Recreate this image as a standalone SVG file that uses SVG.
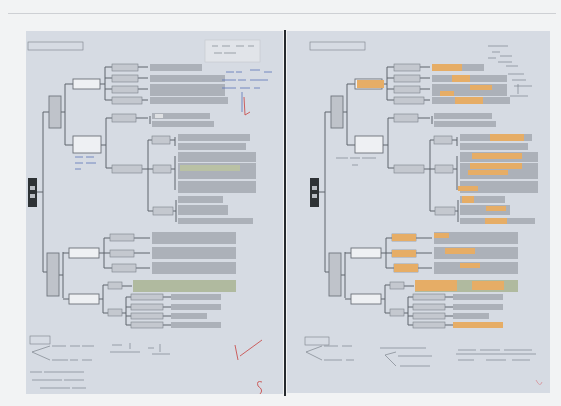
<svg xmlns="http://www.w3.org/2000/svg" xmlns:xlink="http://www.w3.org/1999/xlink" width="561" height="406" viewBox="0 0 561 406">
<style>
.ln{fill:none;stroke:#5f656d;stroke-width:1}
.nd{fill:#eef0f3;stroke:#6a7078;stroke-width:0.9}
.lb{fill:#c4c8cf;stroke:#7b8189;stroke-width:0.6}
.bar{fill:#acb1b9}
.grn{fill:#b0ba9f}
.or{fill:#e6ad66}
.sub{fill:#bfc3ca;stroke:#6f757d;stroke-width:0.9}
.hw{fill:none;stroke:#7d848d;stroke-width:0.7}
.bl{fill:none;stroke:#5a73b8;stroke-width:0.8}
.red{fill:none;stroke:#c9504f;stroke-width:0.9}
</style>
<defs>
<filter id="soft" x="0" y="0" width="1" height="1"><feGaussianBlur stdDeviation="0.45"/></filter>
<g id="map">
  <g id="connectors">
    <path class="ln" d="M37,192H43M43,112V272M43,112H49M43,272H47"/>
    <path class="ln" d="M61,112H65M65,84V145M65,84H73M65,145H73"/>
    <path class="ln" d="M100,84H105M105,67V100M105,67H112M105,78H112M105,89H112M105,100H112"/>
    <path class="ln" d="M138,67H148M138,78H148M138,89H148M142,100H148"/>
    <path class="ln" d="M101,145H106M106,118V168M106,118H112M106,168H112"/>
    <path class="ln" d="M136,118H148M150,116V124"/>
    <path class="ln" d="M142,169H148M148,140V211M148,140H152M148,169H153M148,211H153"/>
    <path class="ln" d="M170,140H175M175,137V146M171,169H175M175,156V190M173,211H176M176,200V222"/>
    <path class="ln" d="M59,275H63M63,252V298M63,253H69M63,299H69"/>
    <path class="ln" d="M99,253H104M104,238V268M104,238H110M104,253H110M104,268H112"/>
    <path class="ln" d="M134,238H150M134,253H150M136,268H150"/>
    <path class="ln" d="M99,299H103M103,285V313M103,285H108M103,313H108M122,286H132"/>
    <path class="ln" d="M122,313H126M126,297V325M126,297H131M126,307H131M126,316H131M126,325H131"/>
    <path class="ln" d="M171,297H163M171,307H163M171,316H163M171,325H163"/>
  </g>
  <g id="root"><rect x="28" y="178" width="9" height="29" fill="#2f3236"/><rect x="30" y="186" width="5" height="4" fill="#b9bdc3"/><rect x="30" y="194" width="5" height="4" fill="#b9bdc3"/></g>
  <g id="subTop"><rect class="sub" x="49" y="96" width="12" height="32"/></g>
  <g id="nodeA"><rect class="nd" x="73" y="79" width="27" height="10"/></g>
  <g id="nodeB"><rect class="nd" x="73" y="136" width="28" height="17"/></g>
  <g id="leavesA">
    <rect class="lb" x="112" y="64" width="26" height="7"/><rect class="lb" x="112" y="75" width="26" height="7"/>
    <rect class="lb" x="112" y="86" width="26" height="7"/><rect class="lb" x="112" y="97" width="30" height="7"/>
    <rect class="bar" x="150" y="64" width="52" height="7"/><rect class="bar" x="150" y="75" width="75" height="7"/>
    <rect class="bar" x="150" y="84" width="75" height="12"/><rect class="bar" x="150" y="97" width="78" height="7"/>
  </g>
  <g id="leavesB">
    <rect class="lb" x="112" y="114" width="24" height="8"/><rect class="lb" x="112" y="165" width="30" height="8"/>
    <rect class="bar" x="152" y="113" width="58" height="6"/><rect class="bar" x="152" y="121" width="62" height="6"/>
    <rect class="lb" x="152" y="136" width="18" height="8"/><rect class="lb" x="153" y="165" width="18" height="8"/><rect class="lb" x="153" y="207" width="20" height="8"/>
    <rect class="bar" x="178" y="134" width="72" height="7"/><rect class="bar" x="178" y="143" width="68" height="7"/>
    <rect class="bar" x="178" y="152" width="78" height="10"/><rect class="bar" x="178" y="163" width="78" height="16"/><rect class="bar" x="178" y="181" width="78" height="12"/>
    <rect class="bar" x="178" y="196" width="45" height="7"/><rect class="bar" x="178" y="205" width="50" height="10"/><rect class="bar" x="178" y="218" width="75" height="6"/>
  </g>
  <g id="subBot"><rect class="sub" x="47" y="253" width="12" height="43"/></g>
  <g id="nodeE"><rect class="nd" x="69" y="248" width="30" height="10"/></g>
  <g id="nodeF"><rect class="nd" x="69" y="294" width="30" height="10"/></g>
  <g id="leavesE">
    <rect class="lb" x="110" y="234" width="24" height="7"/><rect class="lb" x="110" y="250" width="24" height="7"/><rect class="lb" x="112" y="264" width="24" height="8"/>
    <rect class="bar" x="152" y="232" width="84" height="12"/><rect class="bar" x="152" y="247" width="84" height="12"/><rect class="bar" x="152" y="262" width="84" height="12"/>
  </g>
  <g id="leavesF">
    <rect class="lb" x="108" y="282" width="14" height="7"/><rect class="lb" x="108" y="309" width="14" height="7"/>
    <rect class="grn" x="133" y="280" width="103" height="12"/>
    <rect class="lb" x="131" y="294" width="32" height="6"/><rect class="lb" x="131" y="304" width="32" height="6"/>
    <rect class="lb" x="131" y="313" width="32" height="6"/><rect class="lb" x="131" y="322" width="32" height="6"/>
    <rect class="bar" x="171" y="294" width="50" height="6"/><rect class="bar" x="171" y="304" width="50" height="6"/>
    <rect class="bar" x="171" y="313" width="36" height="6"/><rect class="bar" x="171" y="322" width="50" height="6"/>
  </g>
</g>
</defs>
<rect width="561" height="406" fill="#f2f3f4"/>
<g filter="url(#soft)">
<path d="M8,13H556" stroke="#a9adb3" stroke-width="1"/>
<rect x="26" y="31" width="257" height="363" fill="#d6dbe3"/>
<rect x="287" y="31" width="263" height="362" fill="#d6dbe3"/>
<path d="M285,30V396" stroke="#26292d" stroke-width="2"/>

<g id="pageLeft">
  <rect x="28" y="42" width="55" height="8" fill="none" stroke="#7b8189" stroke-width="0.6"/>
  <rect x="205" y="40" width="55" height="22" fill="#e1e4e9" stroke="#c3c7cd" stroke-width="0.6"/>
  <path class="hw" d="M212,46h6M222,46h8M236,46h8M248,46h6M214,53h8M224,53h12"/>
  <use href="#map" xlink:href="#map"/>
  <rect x="180" y="165" width="60" height="6" fill="#c2cc96" opacity="0.6"/>
  <rect x="155" y="114" width="8" height="4" fill="#fff" opacity="0.6"/>
  <path class="bl" d="M226,72h8M236,72h6M250,70h10M264,72h8M222,80h14M238,80h8M250,80h18M222,88h14M240,88h10M254,88h6M242,92V112"/>
  <path class="bl" d="M75,157h8M86,157h8M75,163h8M86,163h10M75,169h6"/>
  <path class="red" d="M244,97L245,115L250,112M235,345L238,360M240,356L262,340M262,382q-6,-2 -4,4q6,4 2,8"/>
  <rect x="30" y="336" width="20" height="8" fill="none" stroke="#7b8189" stroke-width="0.6"/>
  <path class="hw" d="M32,352L50,346M32,352L50,360M52,346h14M70,346h10M82,346h12M52,360h16M70,360h8M82,360h10"/>
  <path class="hw" d="M110,352h30M112,345h10M130,343v6M152,354h18M160,344v8M148,348h6M30,372h12M44,372h40M32,380h30M64,380h20M40,388h30M72,388h14"/>
</g>

<g id="pageRight">
  <rect x="310" y="42" width="55" height="8" fill="none" stroke="#7b8189" stroke-width="0.6"/>
  <use href="#map" xlink:href="#map" x="282"/>
  <rect x="357" y="80" width="27" height="8" class="or"/>
  <rect x="432" y="64" width="30" height="7" class="or"/><rect x="452" y="75" width="18" height="7" class="or"/>
  <rect x="470" y="85" width="22" height="5" class="or"/><rect x="440" y="91" width="14" height="5" class="or"/>
  <rect x="455" y="97" width="28" height="7" class="or"/>
  <rect x="490" y="134" width="34" height="7" class="or"/>
  <rect x="472" y="153" width="50" height="6" class="or"/><rect x="470" y="163" width="52" height="6" class="or"/>
  <rect x="468" y="170" width="40" height="5" class="or"/><rect x="458" y="186" width="20" height="5" class="or"/>
  <rect x="462" y="196" width="12" height="7" class="or"/><rect x="486" y="206" width="20" height="5" class="or"/>
  <rect x="485" y="218" width="22" height="6" class="or"/>
  <rect x="392" y="234" width="24" height="7" class="or"/><rect x="392" y="250" width="24" height="7" class="or"/><rect x="394" y="264" width="24" height="8" class="or"/>
  <rect x="434" y="233" width="15" height="5" class="or"/><rect x="445" y="248" width="30" height="6" class="or"/><rect x="460" y="263" width="20" height="5" class="or"/>
  <rect x="415" y="280" width="42" height="11" class="or"/><rect x="472" y="281" width="32" height="9" class="or"/>
  <rect x="453" y="322" width="50" height="6" class="or"/>
  <path class="hw" d="M488,46h20M492,52h8M500,56h12M488,58h8M498,62h14M506,66h12M508,74h16M512,80h14M514,86h18M510,96h18M518,84v10"/>
  <path class="hw" d="M336,158h12M350,158h10M362,158h14M352,165h6"/>
  <rect x="305" y="337" width="24" height="8" fill="none" stroke="#7b8189" stroke-width="0.6"/>
  <path class="hw" d="M306,352L322,346M306,352L322,360M324,346h14M342,346h10M324,360h18M346,360h8"/>
  <path class="hw" d="M380,348h46M385,355L396,352M385,355L396,366M398,356h34M400,366h30M458,350h18M480,350h20M504,350h28M458,360h16M486,360h20M512,360h18M456,354h80"/>
  <path d="M536,380q4,8 6,2" fill="none" stroke="#d8a0a8" stroke-width="1"/>
</g>
</g>
</svg>
